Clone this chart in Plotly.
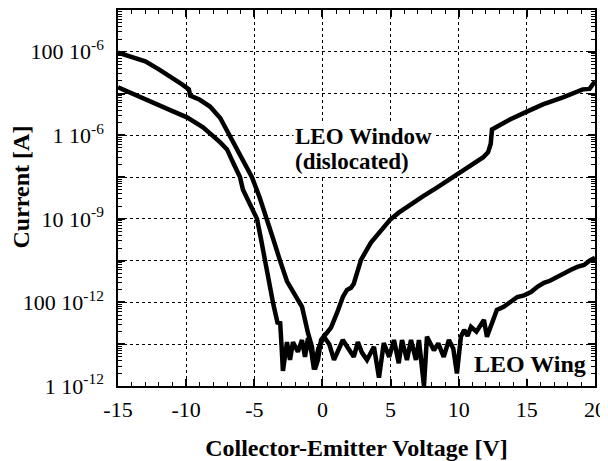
import plotly.graph_objects as go

# LEO Window (dislocated) curve
window_v = [-15, -14, -13, -12, -11, -10.3, -9.8, -9.7, -9.0, -8.25, -7.5, -7.15, -6.7, -6.27,
            -5.6, -5.17, -4.6, -4.07, -3.6, -3.11, -2.6, -1.8, -1.5, -1.06, -0.77, -0.55, -0.33,
            -0.1, 0.3, 0.63, 1.07, 1.5, 1.8, 2.1, 2.3, 2.83, 3.56, 4.5, 4.96, 5.6, 6.42, 7.4,
            8.4, 9.87, 11.0, 11.78, 12.15, 12.35, 12.44, 13.0, 13.76, 15.0, 16.18, 17.65, 19.1,
            19.6, 20.0]
window_i = [9.5e-5, 7.6e-5, 5.9e-5, 3.8e-5, 2.4e-5, 1.66e-5, 1.26e-5, 8.9e-6, 7.1e-6, 4.9e-6,
            2.6e-6, 1.62e-6, 8.9e-7, 4.6e-7, 1.78e-7, 1.0e-7, 3.2e-8, 1.0e-8, 3.2e-9, 1.0e-9,
            3.2e-10, 1.15e-10, 7.9e-11, 1.86e-11, 8.7e-12, 2.5e-12, 4.2e-12, 1.26e-11, 1.78e-11,
            2.5e-11, 5.6e-11, 1.35e-10, 2.0e-10, 2.24e-10, 2.8e-10, 1.05e-9, 2.7e-9, 6.3e-9,
            9.5e-9, 1.41e-8, 2.2e-8, 3.5e-8, 5.6e-8, 1.15e-7, 2.0e-7, 2.95e-7, 3.9e-7, 6.3e-7,
            1.38e-6, 1.78e-6, 2.4e-6, 3.7e-6, 5.5e-6, 8.1e-6, 1.26e-5, 1.29e-5, 1.95e-5]

# LEO Wing curve
wing_v = [-15, -14, -12.65, -11, -9.94, -8.76, -7.5, -7.0, -6.56, -6.05, -5.83, -5.3, -4.8,
          -4.5, -4.21, -4.0, -3.63, -3.3, -3.1, -3.0, -2.9, -2.6, -2.38, -2.16, -1.8, -1.5,
          -1.28, -1.06, -0.8, -0.62, -0.3, 0.11, 0.5, 0.85, 1.14, 1.5, 1.9, 2.3, 2.6, 2.9,
          3.27, 3.78, 4.15, 4.5, 4.9, 5.25, 5.6, 5.84, 6.2, 6.5, 6.86, 7.08, 7.45, 7.67, 8.18,
          8.5, 8.9, 9.28, 9.6, 9.87, 10.16, 10.4, 10.65, 10.9, 11.3, 11.85, 12.07, 12.44, 12.8,
          13.3, 13.8, 14.3, 14.8, 15.3, 15.8, 16.25, 16.7, 17.2, 17.7, 18.2, 18.7, 19.2, 19.6,
          20.0]
wing_i = [1.41e-5, 1.0e-5, 6.5e-6, 3.8e-6, 2.7e-6, 1.55e-6, 6.8e-7, 4.6e-7, 2.24e-7, 1.0e-7,
          5.0e-8, 2.24e-8, 1.0e-8, 3.2e-9, 1.0e-9, 3.5e-10, 1.0e-10, 3.3e-11, 3.2e-11, 9.3e-12,
          2.3e-12, 1.12e-11, 4.2e-12, 1.12e-11, 6.6e-12, 1.26e-11, 5.0e-12, 1.41e-11, 6.3e-12,
          2.5e-12, 7.9e-12, 1.51e-11, 1.0e-11, 4.2e-12, 7.2e-12, 1.26e-11, 7.9e-12, 5.0e-12,
          1.12e-11, 6.3e-12, 4.2e-12, 8.7e-12, 1.58e-12, 1.07e-11, 5.0e-12, 1.26e-11, 3.5e-12,
          1.26e-11, 4.2e-12, 1.26e-11, 4.2e-12, 1.26e-11, 1.0e-12, 1.51e-11, 7.2e-12, 1.05e-11,
          5.0e-12, 1.26e-11, 7.9e-12, 2.0e-12, 1.51e-11, 2.2e-11, 1.58e-11, 2.6e-11, 2.0e-11,
          3.8e-11, 1.51e-11, 3.2e-11, 6.6e-11, 7.9e-11, 1.05e-10, 1.35e-10, 1.48e-10, 1.78e-10,
          2.4e-10, 2.95e-10, 3.3e-10, 4.1e-10, 4.8e-10, 6.0e-10, 7.1e-10, 7.9e-10, 1.0e-9,
          1.17e-9]

y_tickvals = [1e-12, 1e-11, 1e-10, 1e-9, 1e-8, 1e-7, 1e-6, 1e-5, 1e-4]
y_ticktext = ["1 10<sup>-12</sup>", "", "100 10<sup>-12</sup>", "", "10 10<sup>-9</sup>", "",
              "1 10<sup>-6</sup>", "", "100 10<sup>-6</sup>"]
x_tickvals = [-15, -10, -5, 0, 5, 10, 15, 20]
x_ticktext = ["-15", "-10", "-5", "0", "5", "10", "15", "20"]

# minor tick positions (axis decoration only)
y_minor = [m * 10.0 ** e for e in range(-12, -3) for m in range(2, 10)]
x_minor = list(range(-15, 21))

FONT = "'Liberation Serif', 'Times New Roman', 'DejaVu Serif', serif"

fig = go.Figure()
fig.add_trace(go.Scatter(x=window_v, y=window_i, mode="lines",
                         line=dict(color="black", width=4.5), name="LEO Window"))
fig.add_trace(go.Scatter(x=wing_v, y=wing_i, mode="lines",
                         line=dict(color="black", width=4.5), name="LEO Wing"))

ann_font = dict(family=FONT, size=23, color="black")
fig.add_annotation(x=-2.15, y=-6.03, xref="x", yref="y", text="<b>LEO Window</b>",
                   showarrow=False, xanchor="left", yanchor="middle", bgcolor="white",
                   font=ann_font, borderpad=1)
fig.add_annotation(x=-2.15, y=-6.63, xref="x", yref="y", text="<b>(dislocated)</b>",
                   showarrow=False, xanchor="left", yanchor="middle", bgcolor="white",
                   font=ann_font, borderpad=1)
fig.add_annotation(x=19.5, y=-11.47, xref="x", yref="y", text="<b>LEO Wing</b>",
                   showarrow=False, xanchor="right", yanchor="middle", bgcolor="white",
                   font=dict(family=FONT, size=24, color="black"), borderpad=1)
# y-axis title
fig.add_annotation(x=(21 - 118) / 477, y=0.528, xref="paper", yref="paper",
                   text="<b>Current [A]</b>", textangle=-90, showarrow=False,
                   xanchor="center", yanchor="middle",
                   font=dict(family=FONT, size=24, color="black"))

# The page places the figure 8 px from the top-left corner, so size/margins compensate.
fig.update_layout(
    width=600, height=453,
    margin=dict(l=110, r=13, t=2, b=75),
    paper_bgcolor="white", plot_bgcolor="white",
    showlegend=False,
    font=dict(family=FONT, color="black", size=20),
)
fig.update_xaxes(
    range=[-15, 20], tickvals=x_tickvals, ticktext=x_ticktext,
    ticks="inside", ticklen=7, tickcolor="black", tickwidth=1.5,
    showline=True, linecolor="black", linewidth=1.5, mirror="ticks",
    showgrid=True, gridcolor="black", griddash="dot", gridwidth=1,
    minor=dict(tickvals=x_minor, ticks="inside", ticklen=4, tickcolor="black",
               tickwidth=1.2, showgrid=False),
    tickfont=dict(family=FONT, size=22), ticklabelstandoff=3, zeroline=False,
    automargin=False,
    title=dict(text="<b>Collector-Emitter Voltage [V]</b>", font=dict(family=FONT, size=24),
               standoff=18),
)
fig.update_yaxes(
    type="log", range=[-12, -3], tickvals=y_tickvals, ticktext=y_ticktext,
    ticks="inside", ticklen=7, tickcolor="black", tickwidth=1.5,
    showline=True, linecolor="black", linewidth=1.5, mirror="ticks",
    showgrid=True, gridcolor="black", griddash="dot", gridwidth=1,
    minor=dict(tickvals=y_minor, ticks="inside", ticklen=4, tickcolor="black",
               tickwidth=1, showgrid=False),
    tickfont=dict(family=FONT, size=22), ticklabelstandoff=8, zeroline=False,
    automargin=False,
)

fig.write_html("out.html")
